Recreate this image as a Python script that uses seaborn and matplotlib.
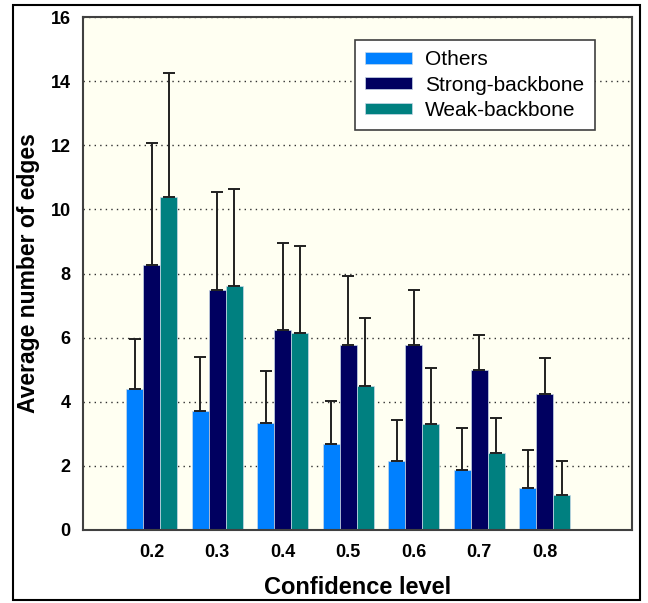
import pandas as pd
import matplotlib.pyplot as plt
import seaborn as sns
from matplotlib.patches import Rectangle

# --- data ---
levels = ["0.2", "0.3", "0.4", "0.5", "0.6", "0.7", "0.8"]
groups = ["Others", "Strong-backbone", "Weak-backbone"]

others = [4.40, 3.71, 3.34, 2.68, 2.15, 1.87, 1.31]
strong = [8.27, 7.49, 6.24, 5.77, 5.77, 4.99, 4.24]
weak = [10.39, 7.61, 6.14, 4.49, 3.31, 2.40, 1.09]

# upper ends of the (one-sided) error bars
others_err_top = [5.96, 5.40, 4.96, 4.02, 3.43, 3.18, 2.50]
strong_err_top = [12.07, 10.54, 8.95, 7.92, 7.49, 6.08, 5.36]
weak_err_top = [14.25, 10.64, 8.86, 6.61, 5.05, 3.49, 2.15]

colors = ["#0080FF", "#000060", "#008080"]

rows = []
for g, vals, tops in zip(groups, [others, strong, weak],
                         [others_err_top, strong_err_top, weak_err_top]):
    for lvl, v, t in zip(levels, vals, tops):
        rows.append({"level": lvl, "group": g, "value": v, "err": t - v})
df = pd.DataFrame(rows)

sns.set_style("white")
plt.rcParams["font.family"] = ["Liberation Sans", "DejaVu Sans"]
plt.rcParams.update({"text.color": "black", "axes.labelcolor": "black",
                     "xtick.color": "black", "ytick.color": "black"})

fig = plt.figure(figsize=(6.48, 6.03), dpi=100)
ax = fig.add_axes([83 / 648, 73 / 603, 549 / 648, 513 / 603])
ax.set_facecolor("#FFFFF2")

sns.barplot(data=df, x="level", y="value", hue="group", order=levels,
            hue_order=groups, palette=colors, saturation=1, width=0.78,
            errorbar=None, edgecolor="#C8D8E8", linewidth=0.5, ax=ax)

# one-sided error bars on top of every bar
for cont, g in zip(ax.containers, groups):
    sub = df[df["group"] == g].set_index("level").loc[levels]
    xs = [b.get_x() + b.get_width() / 2 for b in cont]
    ax.errorbar(xs, sub["value"], yerr=[[0] * len(xs), sub["err"]],
                fmt="none", ecolor="#202020", elinewidth=1.4,
                capsize=4, capthick=1.4, zorder=3)

ax.set_ylim(0, 16)
ax.set_xlim(-1.05, 7.33)
ax.set_yticks(range(0, 17, 2))
ax.yaxis.grid(True, linestyle=(0, (1, 3)), color="#303030", linewidth=1.0)
ax.set_axisbelow(True)
ax.tick_params(axis="y", length=0, labelsize=13, pad=9)
ax.tick_params(axis="x", length=0, labelsize=13, pad=10)
for lab in ax.get_xticklabels() + ax.get_yticklabels():
    lab.set_fontweight("bold")

ax.set_xlabel("Confidence level", fontsize=17, fontweight="bold")
ax.set_ylabel("Average number of edges", fontsize=16.5, fontweight="bold")
ax.xaxis.set_label_coords(0.5, -0.090)
ax.yaxis.set_label_coords(-0.078, 0.5)

for side in ["left", "bottom", "top", "right"]:
    ax.spines[side].set_visible(True)
    ax.spines[side].set_color("#404040")
    ax.spines[side].set_linewidth(1.5)

leg = ax.legend(loc="upper left", bbox_to_anchor=(272 / 549, 1 - 23 / 513),
                fontsize=15, frameon=True, fancybox=False, framealpha=1,
                edgecolor="#404040", handlelength=2.25, handleheight=0.5,
                borderpad=0.5, labelspacing=0.3, handletextpad=0.62,
                borderaxespad=0)
leg.get_frame().set_linewidth(1.2)

# outer border around the whole figure
fig.patches.append(Rectangle((13 / 648, 3 / 603), 627 / 648, 595 / 603,
                             transform=fig.transFigure, fill=False,
                             edgecolor="black", linewidth=1.5))

fig.savefig("out.png", dpi=100)
